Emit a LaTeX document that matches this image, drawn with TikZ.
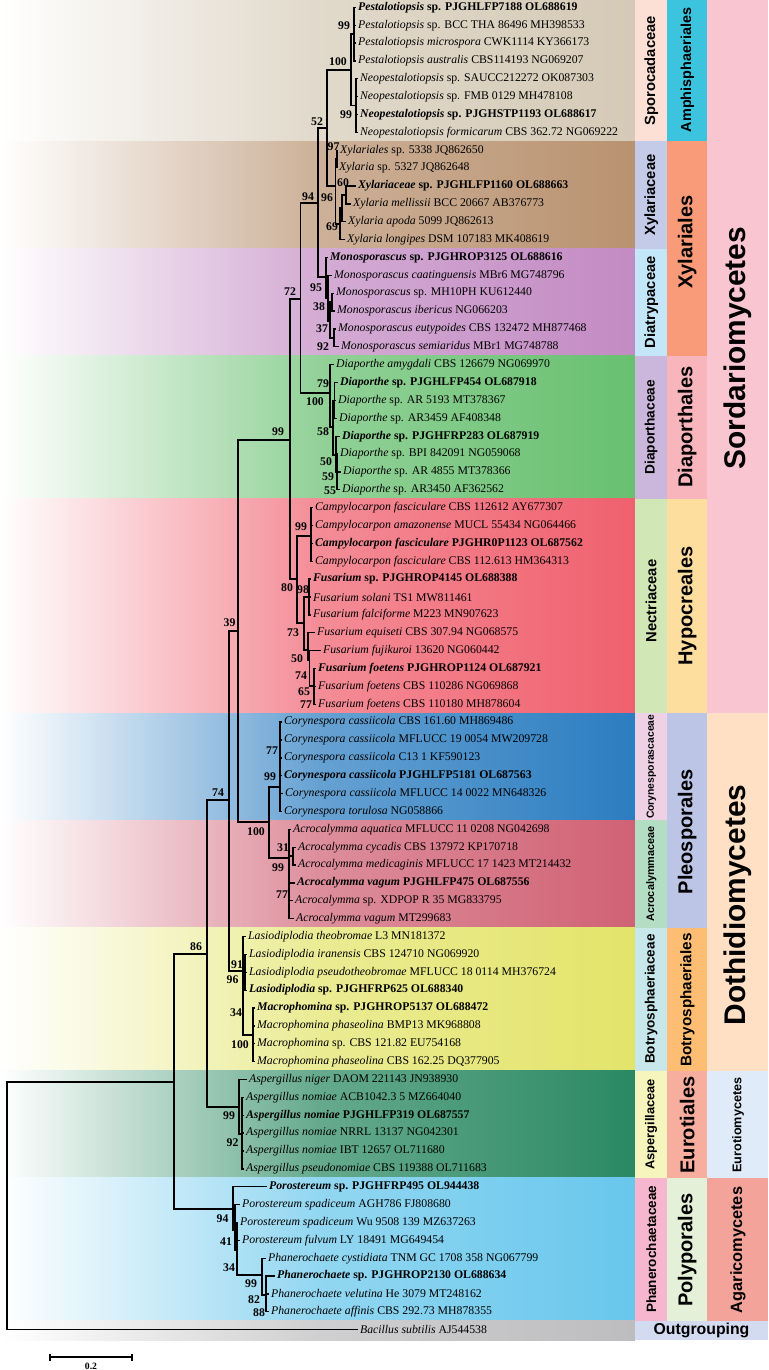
\documentclass[tikz,border=0pt]{standalone}
\usepackage{fontspec}
\setmainfont{Liberation Serif}
\setsansfont{Liberation Sans}
% band colours (right end of each gradient)
\definecolor{bandSpor}{HTML}{D5CAB6}
\definecolor{bandXyla}{HTML}{B99270}
\definecolor{bandDiat}{HTML}{C38BC3}
\definecolor{bandDiap}{HTML}{68C070}
\definecolor{bandNect}{HTML}{F0606E}
\definecolor{bandCory}{HTML}{2B7DC1}
\definecolor{bandAcro}{HTML}{D06275}
\definecolor{bandBotr}{HTML}{E3E46A}
\definecolor{bandAspe}{HTML}{2A8962}
\definecolor{bandPhan}{HTML}{68C7EC}
\definecolor{bandOutg}{HTML}{BDBDBF}
% family column
\definecolor{famSpor}{HTML}{FCE0D5}
\definecolor{famXyla}{HTML}{C3CBE8}
\definecolor{famDiat}{HTML}{C3E7F8}
\definecolor{famDiap}{HTML}{CCB7DC}
\definecolor{famNect}{HTML}{D2E7B6}
\definecolor{famCory}{HTML}{EFD1E6}
\definecolor{famAcro}{HTML}{B3DEC4}
\definecolor{famBotr}{HTML}{C7E7EA}
\definecolor{famAspe}{HTML}{F7F5BE}
\definecolor{famPhan}{HTML}{F6B6CD}
% order column
\definecolor{ordAmph}{HTML}{3CC3DE}
\definecolor{ordXyla}{HTML}{F99B79}
\definecolor{ordDiap}{HTML}{F8B5BC}
\definecolor{ordHypo}{HTML}{FEDE9F}
\definecolor{ordPleo}{HTML}{BCC5E6}
\definecolor{ordBotr}{HTML}{FDBD73}
\definecolor{ordEuro}{HTML}{F8AE9F}
\definecolor{ordPoly}{HTML}{E4F0D7}
% class column
\definecolor{clsSord}{HTML}{F9C5D1}
\definecolor{clsDoth}{HTML}{FFE0C5}
\definecolor{clsEuro}{HTML}{DFEBF9}
\definecolor{clsAgar}{HTML}{F4A39B}
\definecolor{clsOutg}{HTML}{D3DBF1}

\newcommand{\tipfont}{\fontsize{6.7}{7}\selectfont}
\newcommand{\bsfont}{\bfseries\fontsize{6.7}{7}\selectfont}
\newcommand{\taxon}[4]{\node[taxlab] (#1) at (#3,{7.3+17.87*(#2-1)}) {#4};}

\tikzset{
  brl/.style={line width=0.75pt, black},
  taxlab/.style={anchor=west, inner xsep=1pt, inner ysep=0pt, font=\tipfont},
  bs/.style={inner sep=0pt, font=\bsfont},
  fam/.style={rotate=90, inner sep=0pt, font=\sffamily\bfseries\fontsize{#1}{#1}\selectfont},
  fam/.default=8.4,
  ord/.style={rotate=90, inner sep=0pt, font=\sffamily\bfseries\fontsize{#1}{#1}\selectfont},
  ord/.default=11.4,
  cls/.style={rotate=90, inner sep=0pt, font=\sffamily\bfseries\fontsize{#1}{#1}\selectfont},
  cls/.default=17,
  outg/.style={inner sep=0pt, font=\sffamily\bfseries\fontsize{9}{9}\selectfont}
}

\begin{document}
\begin{tikzpicture}[x=0.02cm, y=-0.02cm]
  \useasboundingbox (0,0) rectangle (768,1370);

  % Clade bands
  \foreach \ya/\yb/\col in {0/141.3/bandSpor, 141.3/248.6/bandXyla, 248.6/355.8/bandDiat,
      355.8/498.7/bandDiap, 498.7/713.2/bandNect, 713.2/820.4/bandCory, 820.4/927.6/bandAcro,
      927.6/1070.6/bandBotr, 1070.6/1177.8/bandAspe, 1177.8/1320.7/bandPhan, 1320.7/1340/bandOutg}
    \shade[left color=white, right color=\col, middle color=\col!72!white] (0,\ya) rectangle (635,\yb);

  % Family column
  \fill[famSpor] (635,0) rectangle (667.3,141.3);
  \node[fam] (fSpor) at (651.2,70.6) {Sporocadaceae};
  \fill[famXyla] (635,141.3) rectangle (667.3,248.6);
  \node[fam] (fXyla) at (651.2,195) {Xylariaceae};
  \fill[famDiat] (635,248.6) rectangle (667.3,355.8);
  \node[fam] (fDiat) at (651.2,302.2) {Diatrypaceae};
  \fill[famDiap] (635,355.8) rectangle (667.3,498.7);
  \node[fam=7.8] (fDiap) at (651.2,427.2) {Diaporthaceae};
  \fill[famNect] (635,498.7) rectangle (667.3,713.2);
  \node[fam] (fNect) at (651.2,601) {Nectriaceae};
  \fill[famCory] (635,713.2) rectangle (667.3,820.4);
  \node[fam=5.9] (fCory) at (651.2,766.8) {Corynesporascaceae};
  \fill[famAcro] (635,820.4) rectangle (667.3,927.6);
  \node[fam=6.2] (fAcro) at (651.2,874) {Acrocalymmaceae};
  \fill[famBotr] (635,927.6) rectangle (667.3,1070.6);
  \node[fam=7.7] (fBotr) at (651.2,999.1) {Botryosphaeriaceae};
  \fill[famAspe] (635,1070.6) rectangle (667.3,1177.8);
  \node[fam=7.3] (fAspe) at (651.2,1124.2) {Aspergillaceae};
  \fill[famPhan] (635,1177.8) rectangle (667.3,1320.7);
  \node[fam=7.7] (fPhan) at (651.2,1249.3) {Phanerochaetaceae};

  % Order column
  \fill[ordAmph] (667.3,0) rectangle (707.3,141.3);
  \node[ord=8.2] (oAmph) at (687.3,70) {Amphisphaeriales};
  \fill[ordXyla] (667.3,141.3) rectangle (707.3,355.8);
  \node[ord] (oXyla) at (687.3,242) {Xylariales};
  \fill[ordDiap] (667.3,355.8) rectangle (707.3,498.7);
  \node[ord] (oDiap) at (687.3,427.2) {Diaporthales};
  \fill[ordHypo] (667.3,498.7) rectangle (707.3,713.2);
  \node[ord] (oHypo) at (687.3,606) {Hypocreales};
  \fill[ordPleo] (667.3,713.2) rectangle (707.3,927.6);
  \node[ord] (oPleo) at (687.3,832) {Pleosporales};
  \fill[ordBotr] (667.3,927.6) rectangle (707.3,1070.6);
  \node[ord=8.7] (oBotr) at (687.3,1000) {Botryosphaeriales};
  \fill[ordEuro] (667.3,1070.6) rectangle (707.3,1177.8);
  \node[ord] (oEuro) at (687.3,1125) {Eurotiales};
  \fill[ordPoly] (667.3,1177.8) rectangle (707.3,1320.7);
  \node[ord] (oPoly) at (687.3,1250) {Polyporales};

  % Class column
  \fill[clsSord] (707.3,0) rectangle (768,713.2);
  \node[cls] (cSord) at (738,348) {Sordariomycetes};
  \fill[clsDoth] (707.3,713.2) rectangle (768,1070.6);
  \node[cls] (cDoth) at (738,905) {Dothidiomycetes};
  \fill[clsEuro] (707.3,1070.6) rectangle (768,1177.8);
  \node[cls=7.2] (cEuro) at (738,1125) {Eurotiomycetes};
  \fill[clsAgar] (707.3,1177.8) rectangle (768,1320.7);
  \node[cls=9.3] (cAgar) at (738,1250) {Agaricomycetes};
  \fill[clsOutg] (635,1320.7) rectangle (768,1340);
  \node[outg] (cOutg) at (701.5,1330.5) {Outgrouping};

  % Taxa: Sporocadaceae
  \taxon{pest1}{1}{356}{\textbf{\textit{Pestalotiopsis} sp. PJGHLFP7188 OL688619}}
  \taxon{pest2}{2}{356}{\textit{Pestalotiopsis} sp. BCC THA 86496 MH398533}
  \taxon{pest3}{3}{356}{\textit{Pestalotiopsis microspora} CWK1114 KY366173}
  \taxon{pest4}{4}{356}{\textit{Pestalotiopsis australis} CBS114193 NG069207}
  \taxon{neo1}{5}{358}{\textit{Neopestalotiopsis} sp. SAUCC212272 OK087303}
  \taxon{neo2}{6}{358}{\textit{Neopestalotiopsis} sp. FMB 0129 MH478108}
  \taxon{neo3}{7}{358}{\textbf{\textit{Neopestalotiopsis} sp. PJGHSTP1193 OL688617}}
  \taxon{neo4}{8}{358}{\textit{Neopestalotiopsis formicarum} CBS 362.72 NG069222}
  % Xylariaceae
  \taxon{xyl1}{9}{338}{\textit{Xylariales} sp. 5338 JQ862650}
  \taxon{xyl2}{10}{337}{\textit{Xylaria} sp. 5327 JQ862648}
  \taxon{xyl3}{11}{356}{\textbf{\textit{Xylariaceae} sp. PJGHLFP1160 OL688663}}
  \taxon{xyl4}{12}{351}{\textit{Xylaria mellissii} BCC 20667 AB376773}
  \taxon{xyl5}{13}{346}{\textit{Xylaria apoda} 5099 JQ862613}
  \taxon{xyl6}{14}{345}{\textit{Xylaria longipes} DSM 107183 MK408619}
  % Diatrypaceae
  \taxon{mono1}{15}{328}{\textbf{\textit{Monosporascus} sp. PJGHROP3125 OL688616}}
  \taxon{mono2}{16}{332}{\textit{Monosporascus caatinguensis} MBr6 MG748796}
  \taxon{mono3}{17}{334}{\textit{Monosporascus} sp. MH10PH KU612440}
  \taxon{mono4}{18}{335}{\textit{Monosporascus ibericus} NG066203}
  \taxon{mono5}{19}{336}{\textit{Monosporascus eutypoides} CBS 132472 MH877468}
  \taxon{mono6}{20}{339}{\textit{Monosporascus semiaridus} MBr1 MG748788}
  % Diaporthaceae
  \taxon{dia1}{21}{334}{\textit{Diaporthe amygdali} CBS 126679 NG069970}
  \taxon{dia2}{22}{338}{\textbf{\textit{Diaporthe} sp. PJGHLFP454 OL687918}}
  \taxon{dia3}{23}{336}{\textit{Diaporthe} sp. AR 5193 MT378367}
  \taxon{dia4}{24}{337}{\textit{Diaporthe} sp. AR3459 AF408348}
  \taxon{dia5}{25}{340}{\textbf{\textit{Diaporthe} sp. PJGHFRP283 OL687919}}
  \taxon{dia6}{26}{338}{\textit{Diaporthe} sp. BPI 842091 NG059068}
  \taxon{dia7}{27}{341}{\textit{Diaporthe} sp. AR 4855 MT378366}
  \taxon{dia8}{28}{340}{\textit{Diaporthe} sp. AR3450 AF362562}
  % Nectriaceae
  \taxon{camp1}{29}{313}{\textit{Campylocarpon fasciculare} CBS 112612 AY677307}
  \taxon{camp2}{30}{313}{\textit{Campylocarpon amazonense} MUCL 55434 NG064466}
  \taxon{camp3}{31}{313}{\textbf{\textit{Campylocarpon fasciculare} PJGHR0P1123 OL687562}}
  \taxon{camp4}{32}{313}{\textit{Campylocarpon fasciculare} CBS 112.613 HM364313}
  \taxon{fus1}{33}{311}{\textbf{\textit{Fusarium} sp. PJGHROP4145 OL688388}}
  \taxon{fus2}{34}{311}{\textit{Fusarium solani} TS1 MW811461}
  \taxon{fus3}{35}{311}{\textit{Fusarium falciforme} M223 MN907623}
  \taxon{fus4}{36}{315}{\textit{Fusarium equiseti} CBS 307.94 NG068575}
  \taxon{fus5}{37}{321}{\textit{Fusarium fujikuroi} 13620 NG060442}
  \taxon{fus6}{38}{316}{\textbf{\textit{Fusarium foetens} PJGHROP1124 OL687921}}
  \taxon{fus7}{39}{316}{\textit{Fusarium foetens} CBS 110286 NG069868}
  \taxon{fus8}{40}{316}{\textit{Fusarium foetens} CBS 110180 MH878604}
  % Corynesporascaceae
  \taxon{cory1}{41}{282}{\textit{Corynespora cassiicola} CBS 161.60 MH869486}
  \taxon{cory2}{42}{282}{\textit{Corynespora cassiicola} MFLUCC 19 0054 MW209728}
  \taxon{cory3}{43}{282}{\textit{Corynespora cassiicola} C13 1 KF590123}
  \taxon{cory4}{44}{282}{\textbf{\textit{Corynespora cassiicola} PJGHLFP5181 OL687563}}
  \taxon{cory5}{45}{283}{\textit{Corynespora cassiicola} MFLUCC 14 0022 MN648326}
  \taxon{cory6}{46}{282}{\textit{Corynespora torulosa} NG058866}
  % Acrocalymmaceae
  \taxon{acro1}{47}{291}{\textit{Acrocalymma aquatica} MFLUCC 11 0208 NG042698}
  \taxon{acro2}{48}{296}{\textit{Acrocalymma cycadis} CBS 137972 KP170718}
  \taxon{acro3}{49}{296}{\textit{Acrocalymma medicaginis} MFLUCC 17 1423 MT214432}
  \taxon{acro4}{50}{295}{\textbf{\textit{Acrocalymma vagum} PJGHLFP475 OL687556}}
  \taxon{acro5}{51}{293}{\textit{Acrocalymma} sp. XDPOP R 35 MG833795}
  \taxon{acro6}{52}{294}{\textit{Acrocalymma vagum} MT299683}
  % Botryosphaeriaceae
  \taxon{lasi1}{53}{246}{\textit{Lasiodiplodia theobromae} L3 MN181372}
  \taxon{lasi2}{54}{247}{\textit{Lasiodiplodia iranensis} CBS 124710 NG069920}
  \taxon{lasi3}{55}{247}{\textit{Lasiodiplodia pseudotheobromae} MFLUCC 18 0114 MH376724}
  \taxon{lasi4}{56}{247}{\textbf{\textit{Lasiodiplodia} sp. PJGHFRP625 OL688340}}
  \taxon{macro1}{57}{255}{\textbf{\textit{Macrophomina} sp. PJGHROP5137 OL688472}}
  \taxon{macro2}{58}{255}{\textit{Macrophomina phaseolina} BMP13 MK968808}
  \taxon{macro3}{59}{255}{\textit{Macrophomina} sp. CBS 121.82 EU754168}
  \taxon{macro4}{60}{255}{\textit{Macrophomina phaseolina} CBS 162.25 DQ377905}
  % Aspergillaceae
  \taxon{asp1}{61}{247}{\textit{Aspergillus niger} DAOM 221143 JN938930}
  \taxon{asp2}{62}{244}{\textit{Aspergillus nomiae} ACB1042.3 5 MZ664040}
  \taxon{asp3}{63}{244}{\textbf{\textit{Aspergillus nomiae} PJGHLFP319 OL687557}}
  \taxon{asp4}{64}{244}{\textit{Aspergillus nomiae} NRRL 13137 NG042301}
  \taxon{asp5}{65}{244}{\textit{Aspergillus nomiae} IBT 12657 OL711680}
  \taxon{asp6}{66}{244}{\textit{Aspergillus pseudonomiae} CBS 119388 OL711683}
  % Phanerochaetaceae
  \taxon{poro1}{67}{267}{\textbf{\textit{Porostereum} sp. PJGHFRP495 OL944438}}
  \taxon{poro2}{68}{240}{\textit{Porostereum spadiceum} AGH786 FJ808680}
  \taxon{poro3}{69}{238}{\textit{Porostereum spadiceum} Wu 9508 139 MZ637263}
  \taxon{poro4}{70}{240}{\textit{Porostereum fulvum} LY 18491 MG649454}
  \taxon{phan1}{71}{266}{\textit{Phanerochaete cystidiata} TNM GC 1708 358 NG067799}
  \taxon{phan2}{72}{275}{\textbf{\textit{Phanerochaete} sp. PJGHROP2130 OL688634}}
  \taxon{phan3}{73}{269}{\textit{Phanerochaete velutina} He 3079 MT248162}
  \taxon{phan4}{74}{269}{\textit{Phanerochaete affinis} CBS 292.73 MH878355}
  % Outgroup
  \taxon{bac}{75}{358}{\textit{Bacillus subtilis} AJ544538}

  % Internal nodes
  \coordinate (root) at (7,1206);
  \coordinate (nAsc) at (174,1082);
  \coordinate (n86) at (207,954);
  \coordinate (n74) at (229,800);
  \coordinate (n39) at (238,631);
  \coordinate (n99) at (290,440);
  \coordinate (n72) at (300.5,299);
  \coordinate (n94) at (318,203);
  \coordinate (n52) at (327,128);
  \coordinate (nSp100) at (351,70);
  \coordinate (nPe99) at (354,34);
  \coordinate (nNe99) at (356,105.6);
  \coordinate (nX96) at (335.5,186);
  \coordinate (nX97) at (337,159);
  \coordinate (nX69) at (340,224);
  \coordinate (nXa) at (342,208);
  \coordinate (nX60) at (346,195);
  \coordinate (nM95) at (326,277);
  \coordinate (nM4) at (328,298);
  \coordinate (nM3) at (330,321);
  \coordinate (nM1) at (332,302);
  \coordinate (nM2) at (334,338);
  \coordinate (nD100) at (330,393);
  \coordinate (nDr) at (333,427);
  \coordinate (nD79) at (334.5,401);
  \coordinate (nD58) at (336,455);
  \coordinate (nD50) at (337,472);
  \coordinate (n80) at (297,579);
  \coordinate (nC99) at (311,536);
  \coordinate (nF73) at (304,623);
  \coordinate (nF98) at (309,597);
  \coordinate (nF50) at (308,650);
  \coordinate (nF51) at (309.5,660);
  \coordinate (nF74) at (314,686);
  \coordinate (nPl100) at (269,822);
  \coordinate (nCo99) at (280,787);
  \coordinate (nAc) at (289,858);
  \coordinate (nAc31) at (293,856);
  \coordinate (nBot) at (243,971);
  \coordinate (nLa) at (245,972);
  \coordinate (nMa) at (253,1035);
  \coordinate (nAsp) at (239,1107);
  \coordinate (nAsp2) at (242,1134);
  \coordinate (nPh) at (233,1209);
  \coordinate (nPo) at (235,1230);
  \coordinate (nPo41) at (237,1250);
  \coordinate (nPa99) at (262,1275);
  \coordinate (nPa82) at (266,1295);

  % Backbone
  \draw[brl] (root) |- (nAsc) (root) |- (bac.west)
    (nAsc) |- (n86) (nAsc) |- (nPh)
    (n86) |- (n74) (n86) |- (nAsp)
    (n74) |- (n39) (n74) |- (nBot)
    (n39) |- (n99) (n39) |- (nPl100)
    (n99) |- (n72) (n99) |- (n80)
    (n72) |- (n94) (n72) |- (nD100)
    (n94) |- (n52) (n94) |- (nM95);

  % Sporocadaceae and Xylariaceae
  \draw[brl] (n52) |- (nSp100) (n52) |- (nX96)
    (nSp100) |- (nPe99) (nSp100) |- (nNe99)
    (nPe99) |- (pest1.west) (nPe99) |- (pest2.west) (nPe99) |- (pest3.west) (nPe99) |- (pest4.west)
    (nNe99) |- (neo1.west) (nNe99) |- (neo2.west) (nNe99) |- (neo3.west) (nNe99) |- (neo4.west)
    (nX96) |- (nX97) (nX96) |- (nX69)
    (nX97) |- (xyl1.west) (nX97) |- (xyl2.west)
    (nX69) |- (nXa) (nX69) |- (xyl6.west)
    (nXa) |- (nX60) (nXa) |- (xyl5.west)
    (nX60) |- (xyl3.west) (nX60) |- (xyl4.west);

  % Diatrypaceae
  \draw[brl] (nM95) |- (mono1.west) (nM95) |- (nM4)
    (nM4) |- (mono2.west) (nM4) |- (nM3)
    (nM3) |- (nM1) (nM3) |- (nM2)
    (nM1) |- (mono3.west) (nM1) |- (mono4.west)
    (nM2) |- (mono5.west) (nM2) |- (mono6.west);

  % Diaporthaceae
  \draw[brl] (nD100) |- (dia1.west) (nD100) |- (nDr)
    (nDr) |- (nD79) (nDr) |- (nD58)
    (nD79) |- (dia2.west) (nD79) |- (dia3.west) (nD79) |- (dia4.west)
    (nD58) |- (dia5.west) (nD58) |- (nD50)
    (nD50) |- (dia6.west) (nD50) |- (dia7.west) (nD50) |- (dia8.west);

  % Nectriaceae
  \draw[brl] (n80) |- (nC99) (n80) |- (nF73)
    (nC99) |- (camp1.west) (nC99) |- (camp2.west) (nC99) |- (camp3.west) (nC99) |- (camp4.west)
    (nF73) |- (nF98) (nF73) |- (nF50)
    (nF98) |- (fus1.west) (nF98) |- (fus2.west) (nF98) |- (fus3.west)
    (nF50) |- (fus4.west) (nF50) |- (nF51)
    (nF51) |- (fus5.west) (nF51) |- (nF74)
    (nF74) |- (fus6.west) (nF74) |- (fus7.west) (nF74) |- (fus8.west);

  % Pleosporales
  \draw[brl] (nPl100) |- (nCo99) (nPl100) |- (nAc)
    (nCo99) |- (cory1.west) (nCo99) |- (cory2.west) (nCo99) |- (cory3.west)
    (nCo99) |- (cory4.west) (nCo99) |- (cory5.west) (nCo99) |- (cory6.west)
    (nAc) |- (acro1.west) (nAc) |- (nAc31) (nAc) |- (acro4.west) (nAc) |- (acro5.west) (nAc) |- (acro6.west)
    (nAc31) |- (acro2.west) (nAc31) |- (acro3.west);

  % Botryosphaeriaceae
  \draw[brl] (nBot) |- (lasi1.west) (nBot) |- (nLa) (nBot) |- (nMa)
    (nLa) |- (lasi2.west) (nLa) |- (lasi3.west) (nLa) |- (lasi4.west)
    (nMa) |- (macro1.west) (nMa) |- (macro2.west) (nMa) |- (macro3.west) (nMa) |- (macro4.west);

  % Aspergillaceae
  \draw[brl] (nAsp) |- (asp1.west) (nAsp) |- (nAsp2)
    (nAsp2) |- (asp2.west) (nAsp2) |- (asp3.west) (nAsp2) |- (asp4.west)
    (nAsp2) |- (asp5.west) (nAsp2) |- (asp6.west);

  % Phanerochaetaceae
  \draw[brl] (nPh) |- (poro1.west) (nPh) |- (nPo)
    (nPo) |- (poro2.west) (nPo) |- (nPo41)
    (nPo41) |- (poro3.west) (nPo41) |- (poro4.west) (nPo41) |- (nPa99)
    (nPa99) |- (phan1.west) (nPa99) |- (nPa82)
    (nPa82) |- (phan2.west) (nPa82) |- (phan3.west) (nPa82) |- (phan4.west);

  % Bootstrap values
  \node[bs] (b1) at (344,26) {99};
  \node[bs] (b2) at (338,62) {100};
  \node[bs] (b3) at (346,115) {99};
  \node[bs] (b4) at (317,122) {52};
  \node[bs] (b5) at (333.5,147) {97};
  \node[bs] (b6) at (343,183) {60};
  \node[bs] (b7) at (308,197) {94};
  \node[bs] (b8) at (327,198) {96};
  \node[bs] (b9) at (332,227) {69};
  \node[bs] (b10) at (316,288) {95};
  \node[bs] (b11) at (290,292) {72};
  \node[bs] (b12) at (319,307) {38};
  \node[bs] (b13) at (322,329) {37};
  \node[bs] (b14) at (323,347) {92};
  \node[bs] (b15) at (323,384) {79};
  \node[bs] (b16) at (315,402) {100};
  \node[bs] (b17) at (278,432) {99};
  \node[bs] (b18) at (323,432) {58};
  \node[bs] (b19) at (326,462) {50};
  \node[bs] (b20) at (328,477) {59};
  \node[bs] (b21) at (330,491) {55};
  \node[bs] (b22) at (301,527) {99};
  \node[bs] (b23) at (287,588) {80};
  \node[bs] (b24) at (303,590) {98};
  \node[bs] (b25) at (229.5,623) {39};
  \node[bs] (b26) at (293,633) {73};
  \node[bs] (b27) at (297,659) {50};
  \node[bs] (b28) at (301,676) {74};
  \node[bs] (b29) at (304,692) {65};
  \node[bs] (b30) at (306,705) {77};
  \node[bs] (b31) at (272,751) {77};
  \node[bs] (b32) at (270,777) {99};
  \node[bs] (b33) at (218,793) {74};
  \node[bs] (b34) at (256,832) {100};
  \node[bs] (b35) at (283,848) {31};
  \node[bs] (b36) at (278,868) {99};
  \node[bs] (b37) at (282,895) {77};
  \node[bs] (b38) at (196,947) {86};
  \node[bs] (b39) at (237,965) {91};
  \node[bs] (b40) at (232.5,980) {96};
  \node[bs] (b41) at (236,1013) {34};
  \node[bs] (b42) at (240,1045) {100};
  \node[bs] (b43) at (229,1116) {99};
  \node[bs] (b44) at (232.5,1143) {92};
  \node[bs] (b45) at (222.5,1219) {94};
  \node[bs] (b46) at (226,1242) {41};
  \node[bs] (b47) at (229,1268) {34};
  \node[bs] (b48) at (251,1284) {99};
  \node[bs] (b49) at (254,1300) {82};
  \node[bs] (b50) at (259,1313) {88};

  % Scale bar
  \coordinate (sbL) at (50,1357);
  \coordinate (sbR) at (132,1357);
  \draw[brl] (sbL) -- (sbR);
  \draw[brl] (sbL) ++(0,-3.5) -- ++(0,7);
  \draw[brl] (sbR) ++(0,-3.5) -- ++(0,7);
  \node[bs, font=\bfseries\fontsize{5.5}{6}\selectfont] (sbLab) at (91,1366) {0.2};
\end{tikzpicture}
\end{document}
